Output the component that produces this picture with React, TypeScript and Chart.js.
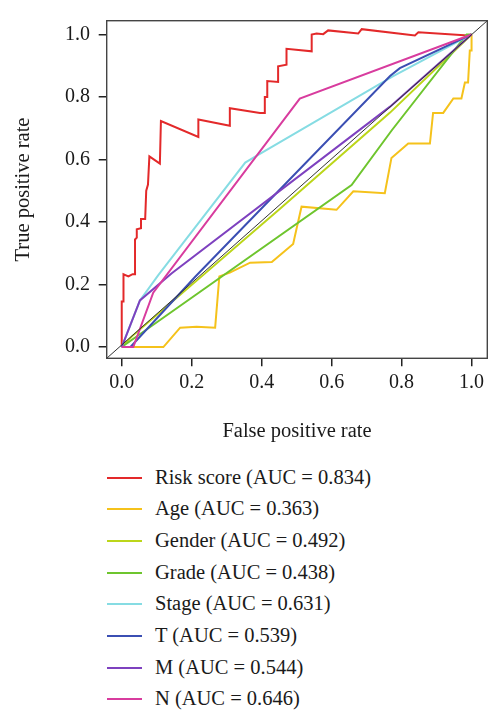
import React, { useEffect, useRef } from "react";
import { Chart, registerables } from "chart.js";

Chart.register(...registerables);

const FONT = "'Liberation Serif', 'Times New Roman', serif";

const seriesNames = ["Risk score", "Age", "Gender", "Grade", "Stage", "T", "M", "N"];
const aucValues = ["0.834", "0.363", "0.492", "0.438", "0.631", "0.539", "0.544", "0.646"];
const seriesColors = ["#E3292A", "#F5C21B", "#BCD61A", "#6EC52E", "#86DCE3", "#3B4FB3", "#7E41BF", "#D83C9E"];

// ROC points as [fpr, tpr]
const riskScore: number[][] = [
  [0, 0], [0, 0.146], [0.005, 0.146], [0.005, 0.233], [0.019, 0.226], [0.031, 0.233], [0.038, 0.233],
  [0.038, 0.344], [0.043, 0.35], [0.043, 0.377], [0.055, 0.38], [0.055, 0.41], [0.067, 0.41],
  [0.07, 0.5], [0.075, 0.52], [0.079, 0.61], [0.109, 0.587], [0.112, 0.723], [0.219, 0.672],
  [0.219, 0.728], [0.309, 0.708], [0.309, 0.764], [0.395, 0.749], [0.409, 0.749], [0.409, 0.8],
  [0.416, 0.8], [0.416, 0.851], [0.447, 0.848], [0.447, 0.898], [0.471, 0.903], [0.471, 0.954],
  [0.543, 0.946], [0.543, 1.0], [0.557, 1.003], [0.576, 1.001], [0.59, 1.013], [0.676, 1.003],
  [0.686, 1.017], [0.838, 0.997], [0.848, 1.007], [0.99, 0.997], [1, 1],
];
const age: number[][] = [
  [0, 0], [0.119, 0], [0.167, 0.062], [0.214, 0.065], [0.267, 0.062], [0.279, 0.226], [0.309, 0.238],
  [0.367, 0.27], [0.429, 0.272], [0.49, 0.33], [0.5, 0.38], [0.514, 0.449], [0.614, 0.439],
  [0.662, 0.498], [0.752, 0.492], [0.771, 0.605], [0.819, 0.651], [0.881, 0.651], [0.89, 0.749],
  [0.919, 0.749], [0.948, 0.795], [0.971, 0.795], [0.981, 0.846], [0.99, 0.846], [0.995, 0.949],
  [1, 0.949], [1, 1],
];
const gender: number[][] = [[0, 0], [0.03, 0.035], [0.45, 0.44], [0.767, 0.75], [1, 1]];
const grade: number[][] = [[0, 0], [0.657, 0.518], [0.771, 0.692], [0.986, 1.0], [1, 1]];
const stage: number[][] = [
  [0, 0], [0.052, 0.149], [0.105, 0.231], [0.353, 0.59], [0.39, 0.615], [0.776, 0.867], [1, 1],
];
const tStage: number[][] = [[0, 0], [0.025, 0], [0.21, 0.225], [0.767, 0.867], [0.795, 0.892], [1, 1]];
const mStage: number[][] = [[0, 0], [0.052, 0.149], [0.143, 0.236], [0.767, 0.769], [1, 1]];
const nStage: number[][] = [[0, 0], [0.033, 0], [0.09, 0.174], [0.509, 0.795], [1, 1]];

const seriesData = [riskScore, age, gender, grade, stage, tStage, mStage, nStage];

const tickValues = [0, 0.2, 0.4, 0.6, 0.8, 1.0];
const xRange = [-0.043, 1.045];
const yRange = [-0.036, 1.044];

const boxPlugin = {
  id: "boxBorder",
  afterDatasetsDraw(chart: any) {
    const { ctx, chartArea } = chart;
    ctx.save();
    ctx.strokeStyle = "#444";
    ctx.lineWidth = 1.4;
    ctx.strokeRect(chartArea.left, chartArea.top, chartArea.right - chartArea.left, chartArea.bottom - chartArea.top);
    ctx.restore();
  },
};

export default function App() {
  const ref = useRef<HTMLCanvasElement>(null);
  useEffect(() => {
    if (!ref.current) return;
    const datasets: any[] = seriesData.map((d, i) => ({
      label: seriesNames[i],
      data: d.map(([x, y]) => ({ x, y })),
      borderColor: seriesColors[i],
      borderWidth: 2,
      pointRadius: 0,
      fill: false,
      tension: 0,
      order: 10 - i,
    }));
    datasets.push({
      label: "diag",
      data: [
        { x: xRange[0], y: yRange[0] },
        { x: xRange[1], y: yRange[1] },
      ],
      borderColor: "#333",
      borderWidth: 1,
      pointRadius: 0,
      fill: false,
      order: 0,
    });
    const chart = new Chart(ref.current, {
      type: "line",
      data: { datasets },
      plugins: [boxPlugin],
      options: {
        animation: false,
        responsive: false,
        layout: { padding: { top: 7.3, right: 4.7, left: 0, bottom: 0 } },
        plugins: { legend: { display: false }, tooltip: { enabled: false } },
        scales: {
          x: {
            type: "linear",
            min: xRange[0],
            max: xRange[1],
            afterFit: (s: any) => { s.height = 85.7; },
            afterBuildTicks: (s: any) => { s.ticks = tickValues.map((v) => ({ value: v })); },
            ticks: {
              padding: 4.7,
              color: "#1a1a1a",
              font: { family: FONT, size: 20 },
              callback: (v: any) => Number(v).toFixed(1),
              maxRotation: 0,
              autoSkip: false,
            },
            grid: { drawOnChartArea: false, drawTicks: true, tickLength: 8, color: "#222", lineWidth: 1.5 },
            border: { display: false },
            title: {
              display: true,
              text: "False positive rate",
              color: "#1a1a1a",
              font: { family: FONT, size: 20.5 },
              padding: { top: 0, bottom: 0 },
            },
          },
          y: {
            type: "linear",
            min: yRange[0],
            max: yRange[1],
            afterFit: (s: any) => { s.width = 106.7; },
            afterBuildTicks: (s: any) => { s.ticks = tickValues.map((v) => ({ value: v })); },
            ticks: {
              padding: 8.7,
              color: "#1a1a1a",
              font: { family: FONT, size: 20 },
              callback: (v: any) => Number(v).toFixed(1),
              autoSkip: false,
            },
            grid: { drawOnChartArea: false, drawTicks: true, tickLength: 8, color: "#222", lineWidth: 1.5 },
            border: { display: false },
            title: {
              display: true,
              text: "True positive rate",
              color: "#1a1a1a",
              font: { family: FONT, size: 20.5 },
              padding: { top: 11, bottom: 0 },
            },
          },
        },
      },
    });
    return () => chart.destroy();
  }, []);

  return (
    <div style={{ position: "absolute", left: 0, top: 0, width: 492, height: 710, background: "#fff" }}>
      <canvas ref={ref} width={492} height={444} style={{ position: "absolute", left: 0, top: 0, width: 492, height: 444 }} />
      {seriesNames.map((name, i) => (
        <div
          key={name}
          style={{
            position: "absolute",
            left: 107,
            top: 477.6 + i * 31.67 - 15.8,
            height: 31.6,
            display: "flex",
            alignItems: "center",
          }}
        >
          <div style={{ width: 35, height: 2, background: seriesColors[i] }} />
          <div
            style={{
              marginLeft: 13,
              fontFamily: FONT,
              fontSize: 20.5,
              lineHeight: "31.6px",
              color: "#1a1a1a",
              whiteSpace: "nowrap",
            }}
          >
            {`${name} (AUC = ${aucValues[i]})`}
          </div>
        </div>
      ))}
    </div>
  );
}
